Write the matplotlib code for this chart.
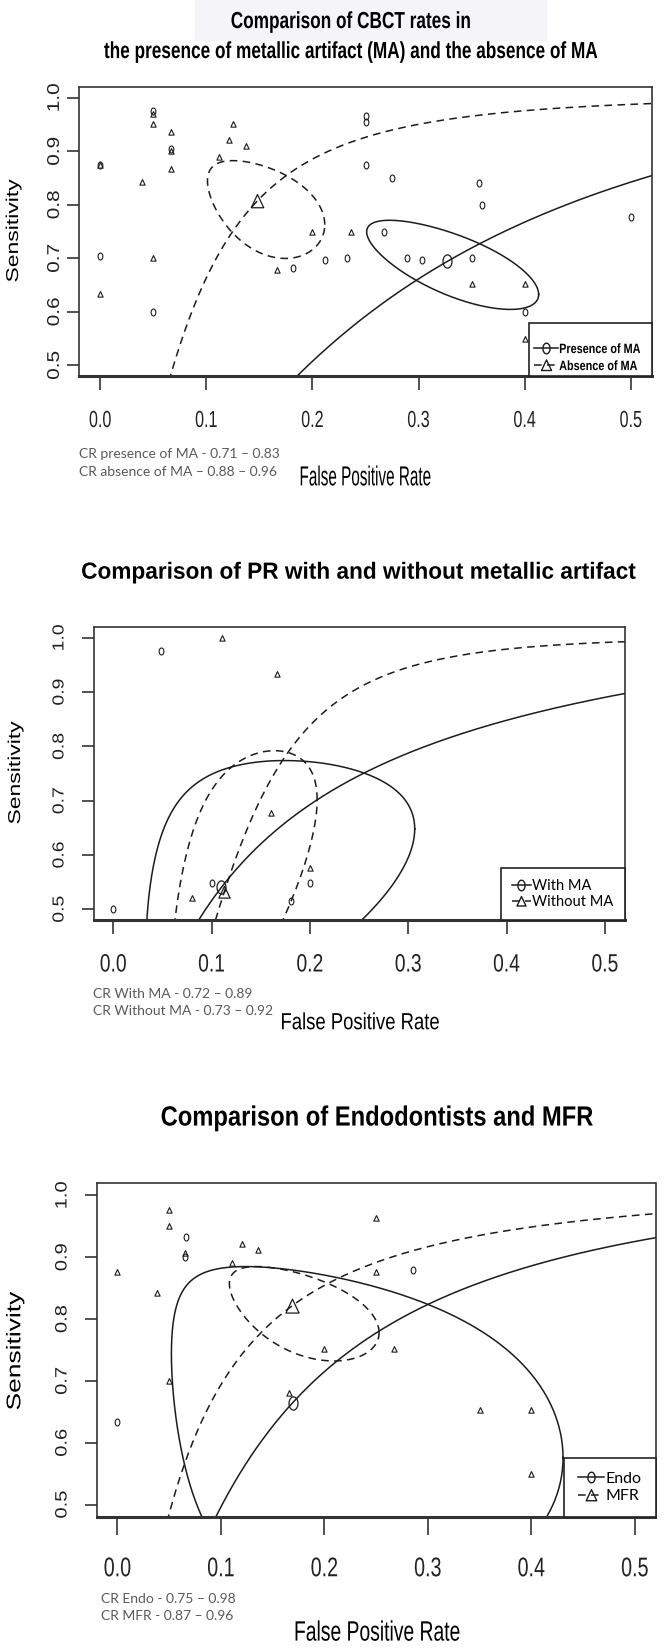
import numpy as np
import matplotlib
matplotlib.use('Agg')
import matplotlib.pyplot as plt
from matplotlib.path import Path
from matplotlib.lines import Line2D
from matplotlib.patches import Rectangle
from matplotlib.patheffects import AbstractPathEffect
from matplotlib.transforms import Affine2D

W, H = 664, 1648

# ---- panel 1: CBCT, presence / absence of metallic artifact ----
p1_ma_fpr = [0.0, 0.0, 0.05, 0.05, 0.067, 0.182, 0.212, 0.233, 0.25, 0.25, 0.25,
             0.267, 0.275, 0.289, 0.303, 0.35, 0.357, 0.36, 0.40, 0.50]
p1_ma_sens = [0.875, 0.705, 0.975, 0.60, 0.905, 0.681, 0.697, 0.70, 0.965, 0.955, 0.875,
              0.75, 0.85, 0.70, 0.697, 0.70, 0.84, 0.80, 0.60, 0.778]
p1_noma_fpr = [0.0, 0.0, 0.039, 0.05, 0.05, 0.05, 0.067, 0.067, 0.067, 0.112, 0.121,
               0.125, 0.137, 0.167, 0.20, 0.236, 0.35, 0.40, 0.40]
p1_noma_sens = [0.875, 0.634, 0.842, 0.97, 0.95, 0.70, 0.935, 0.90, 0.867, 0.89, 0.921,
                0.951, 0.91, 0.678, 0.75, 0.75, 0.652, 0.652, 0.55]
p1_summary = [(0.327, 0.694), (0.148, 0.807)]      # (fpr, sens)
p1_slope = [1.187, 1.683]                          # SROC slope in logit space
p1_region = [(0.371, 0.395, -0.70), (0.435, 0.585, -0.45)]  # half-axes x, y, correlation (logit)
p1_labels = ['Presence of MA', 'Absence of MA']
p1_cr = ['CR presence of MA - 0.71 \u2013 0.83', 'CR absence of MA \u2013 0.88 \u2013 0.96']

# ---- panel 2: PR with / without metallic artifact ----
p2_ma_fpr = [0.0, 0.049, 0.10, 0.20, 0.181]
p2_ma_sens = [0.50, 0.975, 0.548, 0.549, 0.515]
p2_noma_fpr = [0.111, 0.1665, 0.161, 0.20, 0.08]
p2_noma_sens = [1.0, 0.934, 0.678, 0.576, 0.521]
p2_summary = [(0.11, 0.54), (0.113, 0.532)]
p2_slope = [0.925, 2.25]
p2_region = [(1.275, 1.07, 0.42), (0.72, 1.209, 0.60)]
p2_labels = ['With MA', 'Without MA']
p2_cr = ['CR With MA - 0.72 \u2013 0.89', 'CR Without MA - 0.73 \u2013 0.92']

# ---- panel 3: endodontists vs MFR ----
p3_endo_fpr = [0.0665, 0.065, 0.286, 0.0]
p3_endo_sens = [0.933, 0.901, 0.88, 0.634]
p3_mfr_fpr = [0.05, 0.05, 0.065, 0.0, 0.038, 0.111, 0.12, 0.136, 0.25, 0.25, 0.20,
              0.267, 0.05, 0.166, 0.35, 0.40, 0.40]
p3_mfr_sens = [0.976, 0.951, 0.907, 0.876, 0.842, 0.89, 0.921, 0.911, 0.963, 0.876, 0.751,
               0.751, 0.70, 0.681, 0.653, 0.653, 0.55]
p3_summary = [(0.1695, 0.665), (0.1685, 0.821)]
p3_slope = [1.153, 1.174]
p3_region = [(1.31, 1.354, -0.28), (0.513, 0.517, -0.52)]
p3_labels = ['Endo', 'MFR']
p3_cr = ['CR Endo - 0.75 \u2013 0.98', 'CR MFR - 0.87 \u2013 0.96']

x_ticks = [0.0, 0.1, 0.2, 0.3, 0.4, 0.5]
y_ticks = [0.5, 0.6, 0.7, 0.8, 0.9, 1.0]

SANS = ['Liberation Sans', 'DejaVu Sans']
CALI = ['Lato', 'DejaVu Sans']
INK = '#1c1c1c'
DASH = (0, (5, 3.5))

# markers look squeezed sideways in the original
t = np.linspace(0, 2 * np.pi, 40)
CIRC = Path(np.column_stack([0.34 * np.cos(t), 0.5 * np.sin(t)]), closed=True)
TRI = Path([(-0.45, -0.45), (0.45, -0.45), (0.0, 0.5), (-0.45, -0.45)], closed=True)


class Stretch(AbstractPathEffect):
    # scale glyphs along their own vertical axis (source image was squeezed sideways)
    def __init__(self, sy):
        super().__init__()
        self.sy = sy

    def draw_path(self, renderer, gc, tpath, affine, rgbFace=None):
        ext = tpath.get_extents()
        cy = (ext.y0 + ext.y1) / 2
        st = Affine2D().translate(0, -cy).scale(1, self.sy).translate(0, cy)
        renderer.draw_path(gc, tpath, st + affine, rgbFace)


def logit(p):
    p = np.asarray(p, float)
    return np.log(p / (1 - p))


def expit(z):
    return 1 / (1 + np.exp(-z))


fig = plt.figure(figsize=(W / 100, H / 100), dpi=100)


def ftext(x, y, s, sy=None, **kw):
    txt = fig.text(x / W, 1 - y / H, s, **kw)
    if sy:
        txt.set_path_effects([Stretch(sy)])
    return txt


def make_axes(l, t, r, b, xt, yt):
    # xt / yt: (fontsize, stretch, tick length, pad)
    ax = fig.add_axes([l / W, 1 - b / H, (r - l) / W, (b - t) / H])
    ax.set_xlim(-0.02, 0.52)
    ax.set_ylim(0.48, 1.02)
    for sp in ax.spines.values():
        sp.set_linewidth(1.2)
        sp.set_color('#333333')
    ax.spines['bottom'].set_linewidth(2.2)
    ax.set_xticks(x_ticks)
    ax.set_xticklabels(['%.1f' % v for v in x_ticks], family=SANS, fontsize=xt[0],
                       va='center')
    ax.set_yticks(y_ticks)
    ax.set_yticklabels(['%.1f' % v for v in y_ticks], family=SANS, fontsize=yt[0],
                       rotation=90, va='center', ha='center')
    ax.tick_params(axis='x', length=xt[2], width=1.1, pad=xt[3], colors='#222222')
    ax.tick_params(axis='y', length=yt[2], width=1.1, pad=yt[3], colors='#222222')
    for lbl in ax.get_xticklabels():
        lbl.set_path_effects([Stretch(xt[1])])
    for lbl in ax.get_yticklabels():
        lbl.set_path_effects([Stretch(yt[1])])
    return ax


def draw_panel(ax, pts, summary, slope, region, sizes):
    marks = [CIRC, TRI]
    styles = ['-', DASH]
    f = np.linspace(0.002, 0.53, 500)
    for k in range(2):
        fx, sy = pts[k]
        ax.plot(fx, sy, ls='none', marker=marks[k], ms=sizes[k], mfc='none',
                mec=INK, mew=0.8)
        f0, s0 = summary[k]
        ax.plot([f0], [s0], ls='none', marker=marks[k], ms=sizes[k + 2], mfc='none',
                mec=INK, mew=0.9)
        s = expit(logit(s0) + slope[k] * (logit(f) - logit(f0)))
        ax.plot(f, s, color=INK, lw=1.1, ls=styles[k])
        hx, hy, r = region[k]
        tt = np.linspace(0, 2 * np.pi, 600)
        u = np.cos(tt)
        v = r * np.cos(tt) + np.sqrt(1 - r * r) * np.sin(tt)
        ax.plot(expit(logit(f0) + hx * u), expit(logit(s0) + hy * v),
                color=INK, lw=1.1, ls=styles[k])
    return [Line2D([], [], color=INK, lw=1.1, ls=styles[k], marker=marks[k],
                   ms=sizes[k + 2] * 0.8, mfc='none', mec=INK) for k in range(2)]


# title background strip of the first panel
fig.patches.append(Rectangle((195 / W, 1 - 40 / H), 351 / W, 40 / H,
                             transform=fig.transFigure, color='#f4f4f9', zorder=0))

# ---------------- panel 1 ----------------
ax1 = make_axes(79, 87, 652, 376, (11.6, 1.45, 10, 21.7), (15, 0.82, 9, 8.5))
h1 = draw_panel(ax1, [(p1_ma_fpr, p1_ma_sens), (p1_noma_fpr, p1_noma_sens)],
                p1_summary, p1_slope, p1_region, [5, 4.2, 9.5, 10])
# legend box sits in the lower right corner; text is condensed so the frame is drawn apart
ax1.add_patch(Rectangle((0.786, 0.0), 0.214, 0.183, transform=ax1.transAxes,
                        facecolor='white', edgecolor='#222222', lw=1.2, zorder=5,
                        clip_on=False))
leg1 = ax1.legend(h1, p1_labels, loc='lower left', bbox_to_anchor=(0.786, 0.0),
                  borderaxespad=0, frameon=False, handlelength=2.2, handletextpad=0.1,
                  labelspacing=0.65, borderpad=0.45,
                  prop=dict(family=SANS, weight='bold', size=7.8))
leg1.set_zorder(6)
for txt in leg1.get_texts():
    txt.set_path_effects([Stretch(1.25)])

ftext(351, 22, 'Comparison of CBCT rates in', sy=1.35, family=SANS, weight='bold',
      fontsize=12.4, ha='center', va='center')
ftext(351, 52, 'the presence of metallic artifact (MA) and the absence of MA', sy=1.35,
      family=SANS, weight='bold', fontsize=12.4, ha='center', va='center')
ftext(13, 231, 'Sensitivity', sy=0.75, family=SANS, fontsize=16.5, rotation=90,
      ha='center', va='center')
ftext(365, 477, 'False Positive Rate', sy=1.8, family=SANS, fontsize=11,
      ha='center', va='center')
for i, line in enumerate(p1_cr):
    ftext(79, 454 + 18 * i, line, family=CALI, fontsize=10, color='#5a5a5a',
          ha='left', va='center')

# ---------------- panel 2 ----------------
ax2 = make_axes(93.5, 627, 624.5, 920, (13.9, 1.3, 10, 22.4), (14, 0.82, 9, 15))
h2 = draw_panel(ax2, [(p2_ma_fpr, p2_ma_sens), (p2_noma_fpr, p2_noma_sens)],
                p2_summary, p2_slope, p2_region, [5, 4.2, 9.5, 9])
leg2 = ax2.legend(h2, p2_labels, loc='lower right', borderaxespad=0, fancybox=False,
                  framealpha=1, edgecolor='#222222', handlelength=1.3,
                  handletextpad=0.1, labelspacing=0.15, borderpad=0.75,
                  prop=dict(family=CALI, size=10.5))
leg2.get_frame().set_linewidth(1.2)
leg2.set_zorder(10)

ftext(358, 572, 'Comparison of PR with and without metallic artifact', sy=1.03,
      family=SANS, weight='bold', fontsize=16.3, ha='center', va='center')
ftext(15, 773, 'Sensitivity', sy=0.75, family=SANS, fontsize=16.5, rotation=90,
      ha='center', va='center')
ftext(360, 1023, 'False Positive Rate', sy=1.26, family=SANS, fontsize=13.3,
      ha='center', va='center', zorder=3)
for i, line in enumerate(p2_cr):
    ftext(93, 994 + 17 * i, line, family=CALI, fontsize=10, color='#5a5a5a',
          ha='left', va='center', zorder=4,
          bbox=dict(facecolor='white', edgecolor='none', pad=2.5))

# ---------------- panel 3 ----------------
ax3 = make_axes(96.7, 1183, 655.5, 1517, (14.2, 1.37, 13, 23.9), (14.5, 0.82, 9, 15.8))
h3 = draw_panel(ax3, [(p3_endo_fpr, p3_endo_sens), (p3_mfr_fpr, p3_mfr_sens)],
                p3_summary, p3_slope, p3_region, [5, 4.2, 9.5, 10.5])
leg3 = ax3.legend(h3, p3_labels, loc='lower right', borderaxespad=0, fancybox=False,
                  framealpha=1, edgecolor='#222222', handlelength=1.6,
                  handletextpad=0.15, labelspacing=0.2, borderpad=0.85,
                  prop=dict(family=CALI, size=11.5))
leg3.get_frame().set_linewidth(1.2)
leg3.set_zorder(10)

ftext(377, 1118, 'Comparison of Endodontists and MFR', sy=1.17, family=SANS,
      weight='bold', fontsize=17.1, ha='center', va='center')
ftext(15, 1351, 'Sensitivity', sy=0.75, family=SANS, fontsize=19, rotation=90,
      ha='center', va='center')
ftext(377, 1633, 'False Positive Rate', sy=1.45, family=SANS, fontsize=13.9,
      ha='center', va='center')
for i, line in enumerate(p3_cr):
    ftext(101, 1599 + 17 * i, line, family=CALI, fontsize=10, color='#5a5a5a',
          ha='left', va='center')

fig.savefig('out.png', dpi=100)
